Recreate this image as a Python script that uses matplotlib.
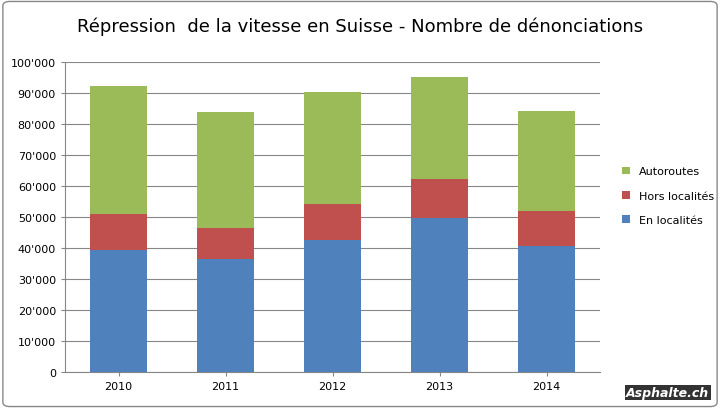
import matplotlib.pyplot as plt
from matplotlib.ticker import FuncFormatter
from matplotlib.patches import FancyBboxPatch

years = ["2010", "2011", "2012", "2013", "2014"]
en_loc = [39400, 36500, 42600, 49700, 40600]
hors_loc = [11600, 10000, 11600, 12600, 11300]
autoroutes = [41300, 37400, 36100, 32900, 32300]

fig = plt.figure(figsize=(7.2, 4.1), dpi=100)
border = FancyBboxPatch((0.004, 0.006), 0.992, 0.988, boxstyle="round,pad=0,rounding_size=0.01",
                        transform=fig.transFigure, fc="white", ec="#888888", lw=1, zorder=-10)
fig.patches.append(border)
ax = fig.add_axes([65/720, 37/410, 535/720, 310/410])
ax.set_zorder(1)
ax.patch.set_alpha(0)
x = range(len(years))
w = 0.53
ax.bar(x, en_loc, w, color="#4F81BD", label="En localités", zorder=3)
ax.bar(x, hors_loc, w, bottom=en_loc, color="#C0504D", label="Hors localités", zorder=3)
b2 = [a + b for a, b in zip(en_loc, hors_loc)]
ax.bar(x, autoroutes, w, bottom=b2, color="#9BBB59", label="Autoroutes", zorder=3)
ax.set_xlim(-0.5, 4.5)
ax.set_ylim(0, 100000)
ax.set_yticks(range(0, 100001, 10000))
ax.yaxis.set_major_formatter(FuncFormatter(lambda v, p: "0" if v == 0 else f"{int(v/1000)}'000"))
ax.set_xticks(list(x))
ax.set_xticklabels(years)
ax.grid(axis="y", color="#868686", lw=0.8, zorder=0)
for s in ["top", "right"]:
    ax.spines[s].set_visible(False)
ax.spines["left"].set_color("#868686")
ax.spines["bottom"].set_color("#868686")
ax.tick_params(labelsize=8, length=3, color="#868686")
h, l = ax.get_legend_handles_labels()
leg = fig.legend(h[::-1], l[::-1], loc="center left", bbox_to_anchor=(612/720, 0.52), frameon=False,
                 fontsize=8, handlelength=0.7, handleheight=0.7, labelspacing=1.3)
leg.set_zorder(2)
fig.text(0.5, 0.935, "Répression  de la vitesse en Suisse - Nombre de dénonciations", ha="center",
         va="center", fontsize=13)
fig.text(0.985, 0.04, "Asphalte.ch", ha="right", va="center", fontsize=9, style="italic",
         weight="bold", color="white", bbox=dict(fc="#333333", ec="none", pad=1), zorder=5)
fig.savefig("out.png", dpi=100)
